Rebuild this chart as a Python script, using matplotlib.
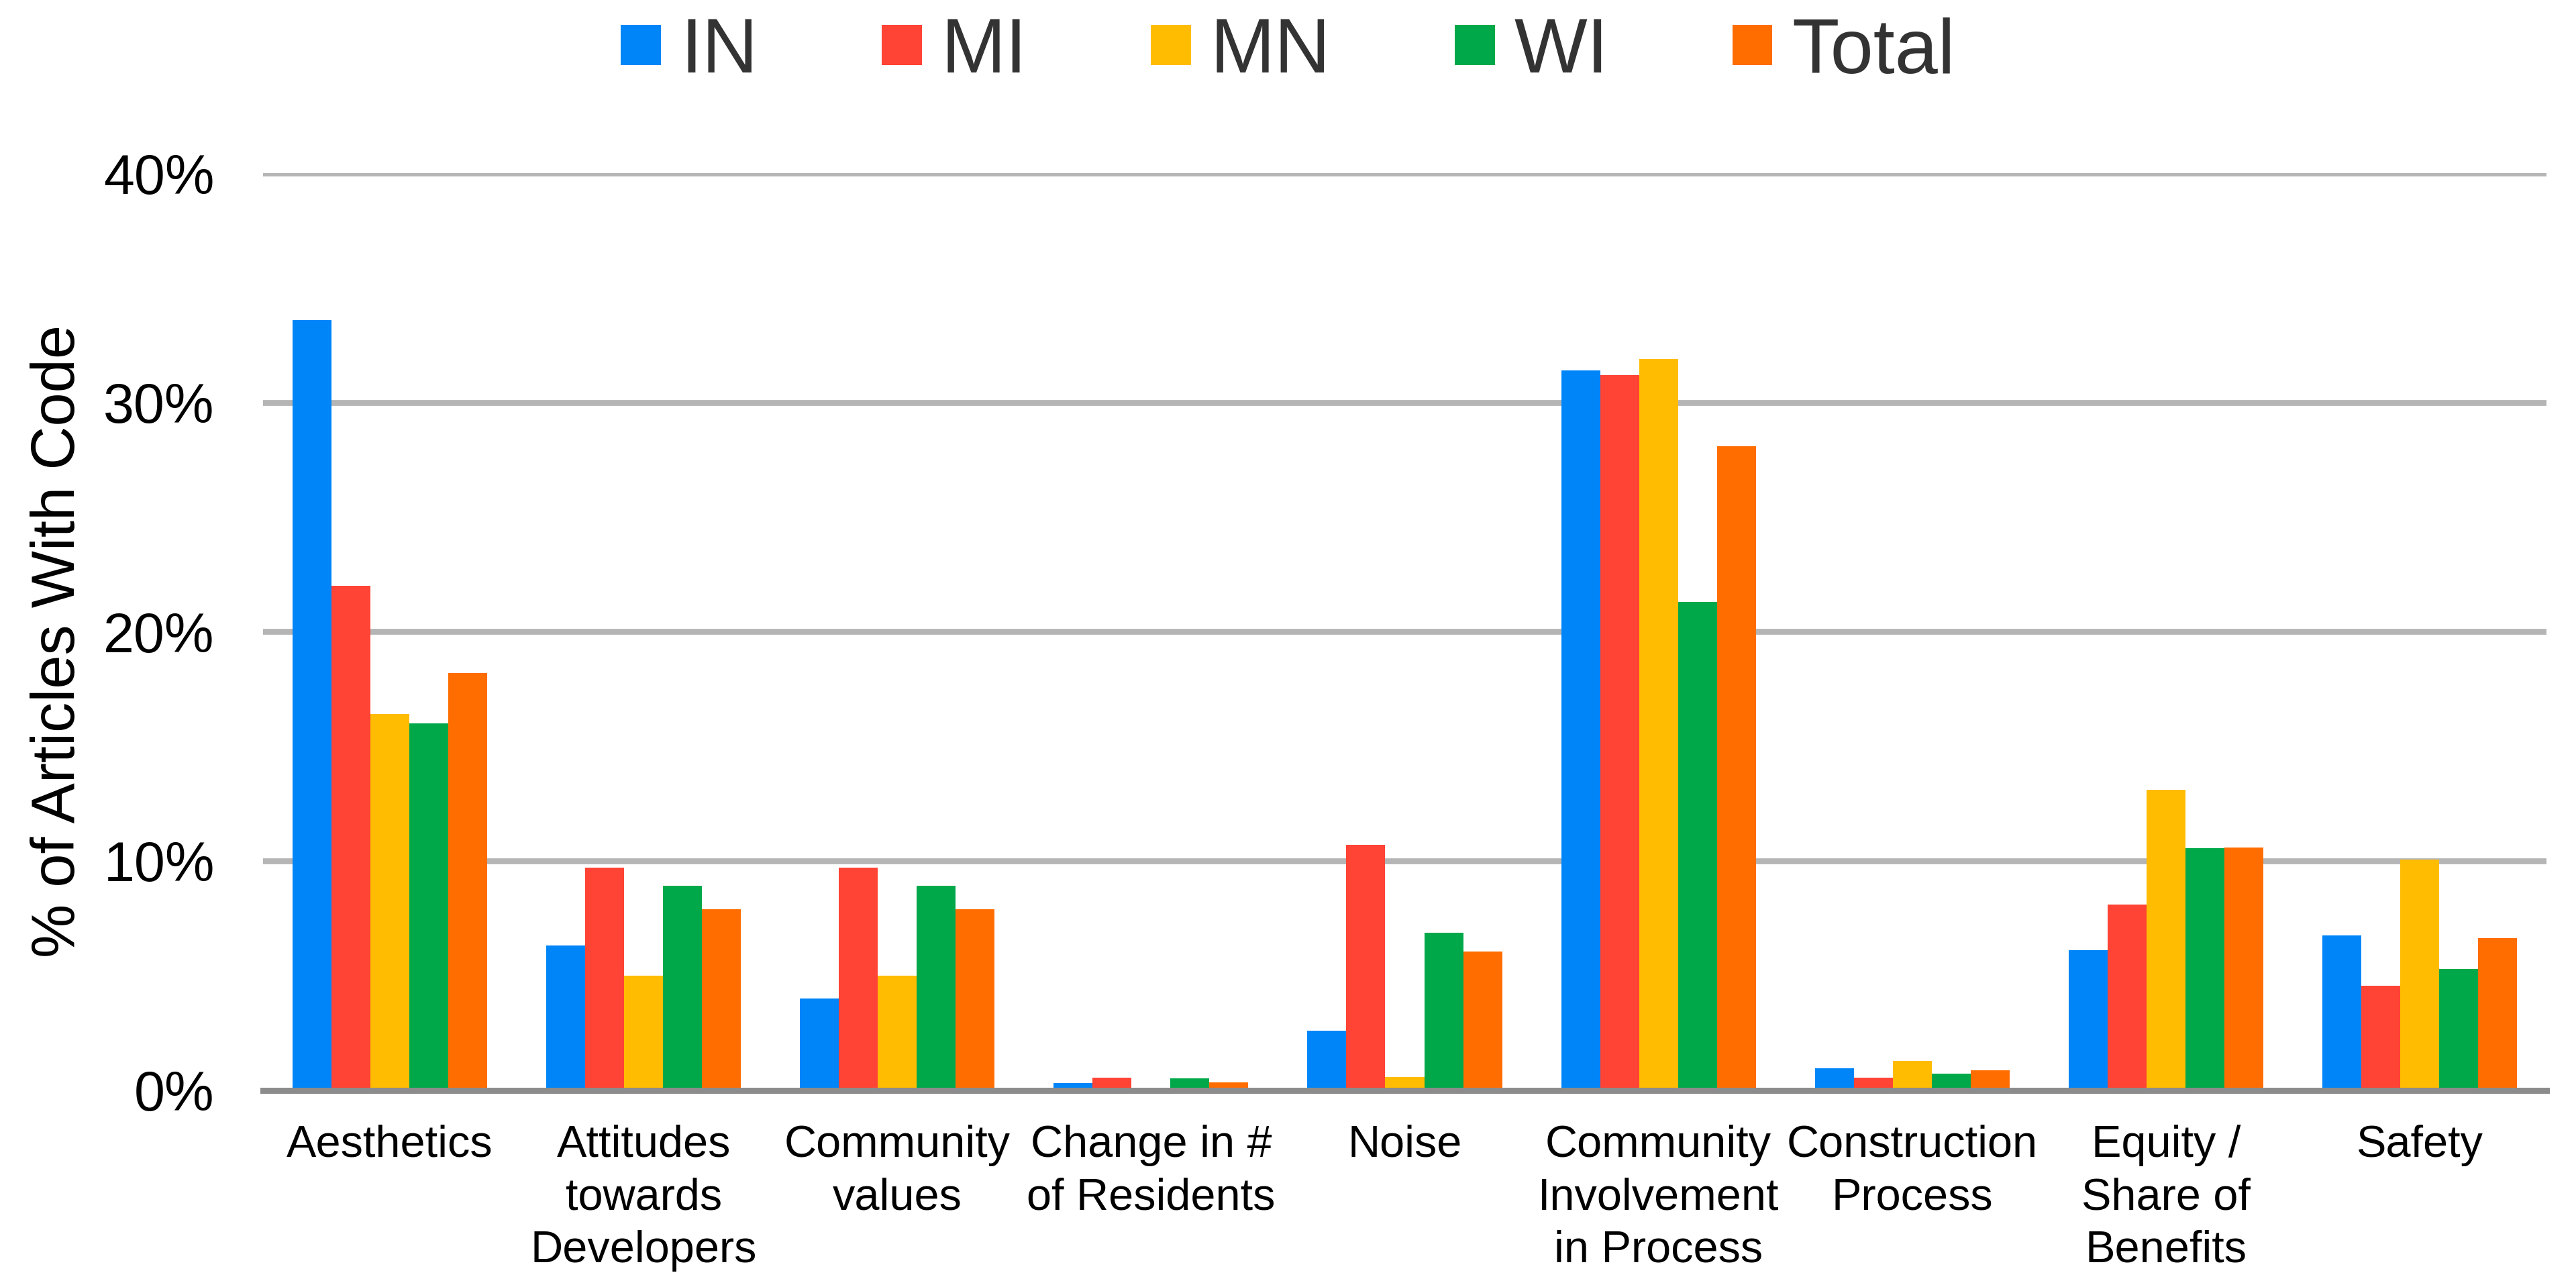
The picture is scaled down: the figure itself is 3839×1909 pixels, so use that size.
import matplotlib
matplotlib.use("Agg")
import matplotlib.pyplot as plt
import numpy as np

plt.rcParams['font.family'] = ['Liberation Sans', 'DejaVu Sans']

categories = ["Aesthetics", "Attitudes\ntowards\nDevelopers", "Community\nvalues",
              "Change in #\nof Residents", "Noise", "Community\nInvolvement\nin Process",
              "Construction\nProcess", "Equity /\nShare of\nBenefits", "Safety"]
series_names = ["IN", "MI", "MN", "WI", "Total"]
IN = [33.6, 6.3, 4.0, 0.3, 2.6, 31.4, 0.95, 6.1, 6.75]
MI = [22.0, 9.7, 9.7, 0.55, 10.7, 31.2, 0.55, 8.1, 4.55]
MN = [16.4, 5.0, 5.0, 0.0, 0.58, 31.9, 1.27, 13.1, 10.07]
WI = [16.0, 8.9, 8.9, 0.52, 6.86, 21.3, 0.73, 10.55, 5.27]
Total = [18.2, 7.9, 7.9, 0.33, 6.05, 28.1, 0.85, 10.58, 6.62]
colors = ["#0085F8", "#FF4335", "#FFBC00", "#00A84A", "#FF6D00"]
yticks = [0, 10, 20, 30, 40]
ytick_labels = ["0%", "10%", "20%", "30%", "40%"]

series = [IN, MI, MN, WI, Total]

fig = plt.figure(figsize=(38.39, 19.09), dpi=100)
ax = fig.add_axes([392/3839, 284.5/1909, (3795-392)/3839, (1624.5-258.1)/1909])

x = np.arange(len(categories))
w = 0.1535
handles = []
for i, (name, vals, c) in enumerate(zip(series_names, series, colors)):
    h = ax.bar(x + (i - 2) * w, vals, width=w, color=c, label=name, zorder=3)
    handles.append(h)

ax.set_xlim(-0.5, len(categories) - 0.5)
ax.set_ylim(0, 40)
ax.set_yticks(yticks)
ax.set_yticklabels(ytick_labels)
ax.set_xticks(x)
ax.set_xticklabels(categories, linespacing=1.34)
for s in ["top", "right", "left"]:
    ax.spines[s].set_visible(False)
ax.spines["bottom"].set_color("#8c8c8c")
ax.spines["bottom"].set_linewidth(6.5)
ax.spines["bottom"].set_zorder(4)
ax.grid(axis="y", color="#b5b5b5", linewidth=6.3, zorder=0)
ax.set_axisbelow(True)
ax.tick_params(axis="y", length=0, pad=52, labelsize=59.5, labelcolor="black")
ax.tick_params(axis="x", length=0, pad=37, labelsize=48, labelcolor="black")
ax.set_ylabel("% of Articles With Code", fontsize=65)
ax.yaxis.set_label_coords(-0.077, 0.49)

fig.legend(handles=handles, labels=series_names, loc="center", ncol=5,
           bbox_to_anchor=(0.5, 1 - 79/1909), frameon=False, fontsize=83,
           handlelength=0.52, handleheight=0.423, handletextpad=0.25,
           columnspacing=1.6, borderpad=0, borderaxespad=0,
           labelcolor="#333333")

fig.savefig("out.png", dpi=100)
